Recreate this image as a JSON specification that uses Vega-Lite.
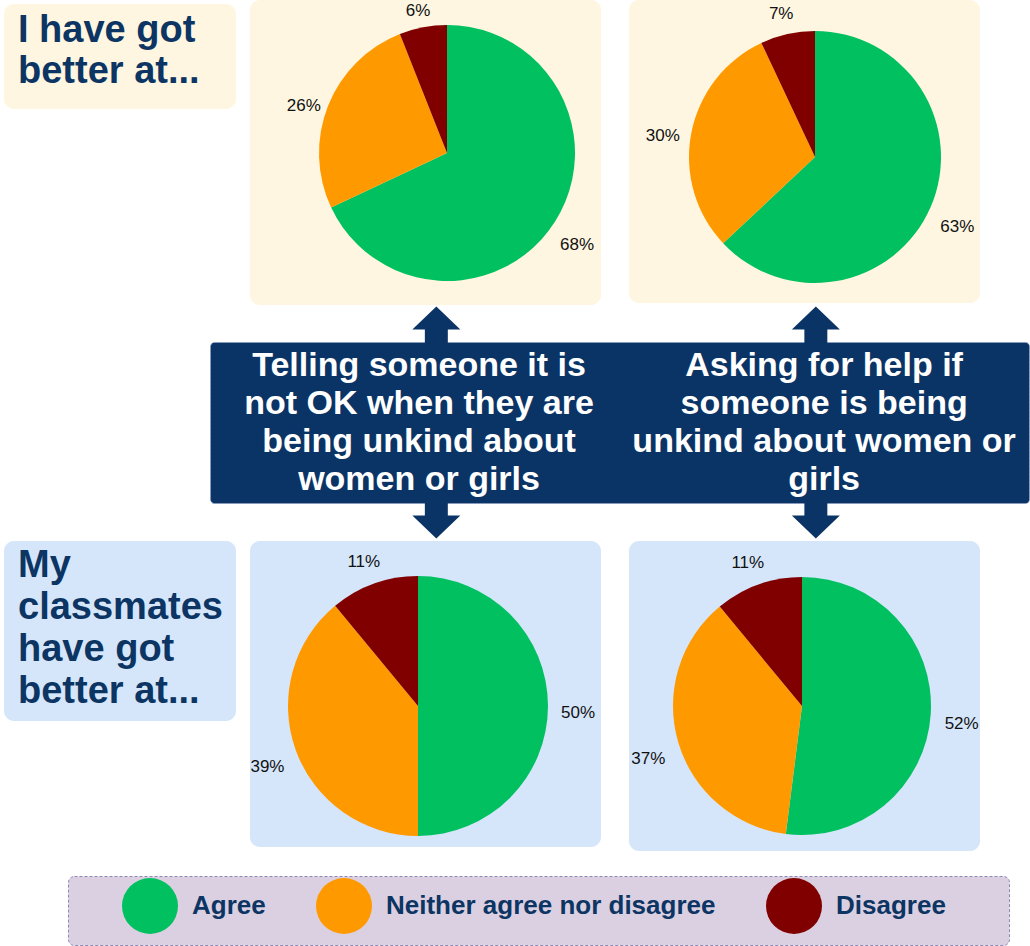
{
  "$schema": "https://vega.github.io/schema/vega-lite/v6.json",
  "padding": {"left": 4, "top": 0, "right": 0, "bottom": 0},
  "background": "white",
  "config": {
    "view": {"stroke": null},
    "font": "Liberation Sans",
    "legend": {
      "orient": "none",
      "legendX": 118,
      "legendY": 878,
      "direction": "horizontal",
      "title": null,
      "padding": 0,
      "symbolType": "circle",
      "symbolSize": 3136,
      "symbolStrokeWidth": 0,
      "symbolOpacity": 1,
      "labelFont": "Liberation Sans",
      "labelFontSize": 26,
      "labelFontWeight": "bold",
      "labelColor": "#0C3563",
      "labelOffset": 14,
      "labelLimit": 1000,
      "columnPadding": 50
    }
  },
  "datasets": {
    "responses": [
      {"who": "Me", "statement": "Telling", "response": "Agree", "share": 0.68},
      {"who": "Me", "statement": "Telling", "response": "Neither agree nor disagree", "share": 0.26},
      {"who": "Me", "statement": "Telling", "response": "Disagree", "share": 0.06},
      {"who": "Me", "statement": "Asking", "response": "Agree", "share": 0.63},
      {"who": "Me", "statement": "Asking", "response": "Neither agree nor disagree", "share": 0.30},
      {"who": "Me", "statement": "Asking", "response": "Disagree", "share": 0.07},
      {"who": "Classmates", "statement": "Telling", "response": "Agree", "share": 0.50},
      {"who": "Classmates", "statement": "Telling", "response": "Neither agree nor disagree", "share": 0.39},
      {"who": "Classmates", "statement": "Telling", "response": "Disagree", "share": 0.11},
      {"who": "Classmates", "statement": "Asking", "response": "Agree", "share": 0.52},
      {"who": "Classmates", "statement": "Asking", "response": "Neither agree nor disagree", "share": 0.37},
      {"who": "Classmates", "statement": "Asking", "response": "Disagree", "share": 0.11}
    ],
    "statements": [
      {"statement": "Telling", "label": "Telling someone it is\nnot OK when they are\nbeing unkind about\nwomen or girls"},
      {"statement": "Asking", "label": "Asking for help if\nsomeone is being\nunkind about women or\ngirls"}
    ],
    "headings": [
      {"who": "Me", "heading": "I have got\nbetter at..."},
      {"who": "Classmates", "heading": "My\nclassmates\nhave got\nbetter at..."}
    ]
  },
  "spacing": 2,
  "vconcat": [
    {
      "spacing": 1,
      "vconcat": [
        {
          "spacing": 14,
          "hconcat": [
            {
              "spacing": 3,
              "bounds": "flush",
              "vconcat": [
                {
                  "width": 232, "height": 1,
                  "data": {"values": []},
                  "mark": {"type": "text"},
                  "encoding": {"text": {"value": ""}}
                },
                {
                  "width": 232, "height": 105,
                  "view": {"fill": "#FEF6E0", "cornerRadius": 10, "stroke": null},
                  "data": {"name": "headings"},
                  "transform": [{"filter": "datum.who === 'Me'"}],
                  "mark": {"type": "text", "align": "left", "baseline": "middle", "dx": -102, "dy": -25.5, "fontSize": 38, "fontWeight": "bold", "lineHeight": 41, "lineBreak": "\n", "color": "#0C3563"},
                  "encoding": {"text": {"field": "heading"}}
                }
              ]
            },
            {
              "spacing": 28,
              "bounds": "flush",
              "hconcat": [
                {
                  "width": 351, "height": 305,
                  "view": {"fill": "#FEF6E0", "cornerRadius": 10, "stroke": null},
                  "data": {"name": "responses"},
                  "transform": [
                    {"filter": "datum.who === 'Me' && datum.statement === 'Telling'"},
                    {"calculate": "indexof(['Agree','Neither agree nor disagree','Disagree'], datum.response)", "as": "rank"}
                  ],
                  "encoding": {
                    "theta": {"field": "share", "type": "quantitative", "stack": true},
                    "order": {"field": "rank", "type": "quantitative"}
                  },
                  "layer": [
                    {"mark": {"type": "arc", "radius": 128, "xOffset": 21.5, "yOffset": 0.5},
                     "encoding": {"color": {"field": "response", "type": "nominal", "scale": {"domain": ["Agree", "Neither agree nor disagree", "Disagree"], "range": ["#00C060", "#FF9900", "#800000"]}}}},
                    {"mark": {"type": "text", "radius": 154, "dx": 21.5, "dy": 10, "fontSize": 17, "color": "#111111"},
                     "encoding": {"detail": {"field": "response"}, "text": {"field": "share", "type": "quantitative", "format": ".0%"}}}
                  ]
                },
                {
                  "width": 351, "height": 303,
                  "view": {"fill": "#FEF6E0", "cornerRadius": 10, "stroke": null},
                  "data": {"name": "responses"},
                  "transform": [
                    {"filter": "datum.who === 'Me' && datum.statement === 'Asking'"},
                    {"calculate": "indexof(['Agree','Neither agree nor disagree','Disagree'], datum.response)", "as": "rank"}
                  ],
                  "encoding": {
                    "theta": {"field": "share", "type": "quantitative", "stack": true},
                    "order": {"field": "rank", "type": "quantitative"}
                  },
                  "layer": [
                    {"mark": {"type": "arc", "radius": 126, "xOffset": 10.5, "yOffset": 5.5},
                     "encoding": {"color": {"field": "response", "type": "nominal", "scale": {"domain": ["Agree", "Neither agree nor disagree", "Disagree"], "range": ["#00C060", "#FF9900", "#800000"]}}}},
                    {"mark": {"type": "text", "radius": 155, "dx": 10.5, "dy": 13.5, "fontSize": 17, "color": "#111111"},
                     "encoding": {"detail": {"field": "response"}, "text": {"field": "share", "type": "quantitative", "format": ".0%"}}}
                  ]
                }
              ]
            }
          ]
        },
        {
          "spacing": 0,
          "hconcat": [
            {
              "width": 205, "height": 161,
              "data": {"values": []},
              "mark": {"type": "text"},
              "encoding": {"text": {"value": ""}}
            },
            {
              "width": 819, "height": 161,
              "view": {"fill": "#0B3466", "cornerRadius": 4, "stroke": "#8D9BC0", "strokeDash": [2, 2], "strokeWidth": 1},
              "data": {"name": "statements"},
              "resolve": {"scale": {"x": "independent"}},
              "layer": [
                {
                  "mark": {"type": "point", "shape": "M0,-1L0.207,-0.802L0.099,-0.802L0.099,0.802L0.207,0.802L0,1L-0.207,0.802L-0.099,0.802L-0.099,-0.802L-0.207,-0.802Z", "size": 53824, "filled": true, "opacity": 1, "color": "#0B3466", "strokeWidth": 0},
                  "encoding": {
                    "x": {"field": "statement", "type": "nominal", "sort": ["Telling", "Asking"], "axis": null, "scale": {"type": "point", "padding": 0.579, "align": 0.515}}
                  }
                },
                {
                  "mark": {"type": "text", "align": "center", "baseline": "middle", "dy": -57, "fontSize": 34, "fontWeight": "bold", "lineHeight": 38, "lineBreak": "\n", "color": "white"},
                  "encoding": {
                    "x": {"field": "statement", "type": "nominal", "sort": ["Telling", "Asking"], "axis": null, "scale": {"type": "point", "padding": 0.511, "align": 0.505}},
                    "text": {"field": "label"}
                  }
                }
              ]
            }
          ]
        }
      ]
    },
    {
      "spacing": 24,
      "vconcat": [
        {
          "spacing": 14,
          "hconcat": [
            {
              "width": 232, "height": 180,
              "view": {"fill": "#D5E6FB", "cornerRadius": 10, "stroke": null},
              "data": {"name": "headings"},
              "transform": [{"filter": "datum.who === 'Classmates'"}],
              "mark": {"type": "text", "align": "left", "baseline": "middle", "dx": -102, "dy": -65, "fontSize": 38, "fontWeight": "bold", "lineHeight": 42, "lineBreak": "\n", "color": "#0C3563"},
              "encoding": {"text": {"field": "heading"}}
            },
            {
              "spacing": 28,
              "bounds": "flush",
              "hconcat": [
                {
                  "width": 351, "height": 306,
                  "view": {"fill": "#D5E6FB", "cornerRadius": 10, "stroke": null},
                  "data": {"name": "responses"},
                  "transform": [
                    {"filter": "datum.who === 'Classmates' && datum.statement === 'Telling'"},
                    {"calculate": "indexof(['Agree','Neither agree nor disagree','Disagree'], datum.response)", "as": "rank"}
                  ],
                  "encoding": {
                    "theta": {"field": "share", "type": "quantitative", "stack": true},
                    "order": {"field": "rank", "type": "quantitative"}
                  },
                  "layer": [
                    {"mark": {"type": "arc", "radius": 130, "xOffset": -7.5, "yOffset": 12},
                     "encoding": {"color": {"field": "response", "type": "nominal", "scale": {"domain": ["Agree", "Neither agree nor disagree", "Disagree"], "range": ["#00C060", "#FF9900", "#800000"]}}}},
                    {"mark": {"type": "text", "radius": 160, "dx": -7.5, "dy": 19, "fontSize": 17, "color": "#111111"},
                     "encoding": {"detail": {"field": "response"}, "text": {"field": "share", "type": "quantitative", "format": ".0%"}}}
                  ]
                },
                {
                  "width": 351, "height": 310,
                  "view": {"fill": "#D5E6FB", "cornerRadius": 10, "stroke": null},
                  "data": {"name": "responses"},
                  "transform": [
                    {"filter": "datum.who === 'Classmates' && datum.statement === 'Asking'"},
                    {"calculate": "indexof(['Agree','Neither agree nor disagree','Disagree'], datum.response)", "as": "rank"}
                  ],
                  "encoding": {
                    "theta": {"field": "share", "type": "quantitative", "stack": true},
                    "order": {"field": "rank", "type": "quantitative"}
                  },
                  "layer": [
                    {"mark": {"type": "arc", "radius": 129, "xOffset": -2.5, "yOffset": 10},
                     "encoding": {"color": {"field": "response", "type": "nominal", "scale": {"domain": ["Agree", "Neither agree nor disagree", "Disagree"], "range": ["#00C060", "#FF9900", "#800000"]}}}},
                    {"mark": {"type": "text", "radius": 160, "dx": -2.5, "dy": 18, "fontSize": 17, "color": "#111111"},
                     "encoding": {"detail": {"field": "response"}, "text": {"field": "share", "type": "quantitative", "format": ".0%"}}}
                  ]
                }
              ]
            }
          ]
        },
        {
          "spacing": 0,
          "hconcat": [
            {
              "width": 63, "height": 69,
              "data": {"values": []},
              "mark": {"type": "text"},
              "encoding": {"text": {"value": ""}}
            },
            {
              "width": 941, "height": 69,
              "view": {"fill": "#DBD0E2", "cornerRadius": 6, "stroke": "#8F88B5", "strokeDash": [3, 2], "strokeWidth": 1},
              "data": {"values": []},
              "mark": {"type": "text"},
              "encoding": {"text": {"value": ""}}
            }
          ]
        }
      ]
    }
  ]
}
